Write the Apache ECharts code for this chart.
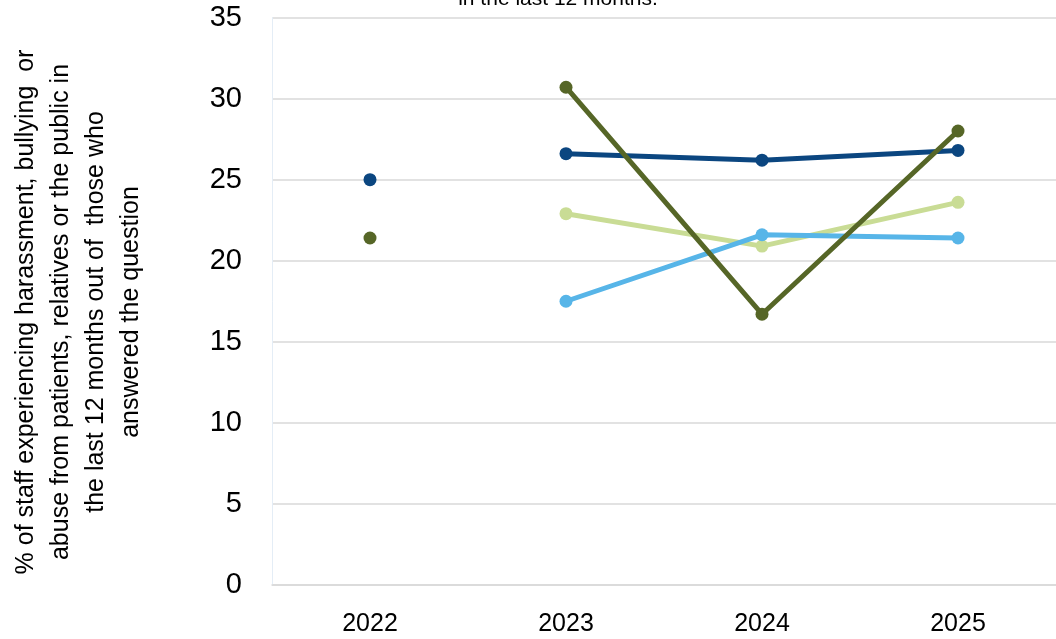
<!DOCTYPE html>
<html>
<head>
<meta charset="utf-8">
<script src="https://cdn.jsdelivr.net/npm/echarts@6/dist/echarts.min.js"></script>
<style>
  html, body { margin: 0; padding: 0; background: #ffffff; }
  #chart { width: 1056px; height: 639px; }
</style>
</head>
<body>
<div id="chart"></div>
<script>
// Survey years on the category axis
const years = ['2022', '2023', '2024', '2025'];

// % of staff reporting harassment, bullying or abuse from patients, relatives or the public
const darkBlue   = [25.0, 26.6, 26.2, 26.8];
const olive      = [21.4, 30.7, 16.7, 28.0];
const lightGreen = [null, 22.9, 20.9, 23.6];
const lightBlue  = [null, 17.5, 21.6, 21.4];

// Value-axis ticks
const yTicks = [0, 5, 10, 15, 20, 25, 30, 35];

const FONT = '"Liberation Sans", Arial, sans-serif';

// 2022 stands alone (break in the series), so it is drawn as a point only
const linePart  = arr => arr.map((v, i) => (i === 0 || v == null) ? '-' : v);
const firstPart = arr => arr.map((v, i) => (i === 0 && v != null) ? v : '-');

function lineSeries(name, data, color) {
  return {
    name: name,
    type: 'line',
    data: linePart(data),
    symbol: 'circle',
    symbolSize: 13,
    lineStyle: { color: color, width: 5 },
    itemStyle: { color: color },
    connectNulls: false,
    animation: false
  };
}
function pointSeries(name, data, color) {
  return {
    name: name,
    type: 'line',
    data: firstPart(data),
    symbol: 'circle',
    symbolSize: 13,
    showSymbol: true,
    lineStyle: { width: 0 },
    itemStyle: { color: color },
    animation: false
  };
}

const chart = echarts.init(document.getElementById('chart'), null, { renderer: 'canvas' });

chart.setOption({
  backgroundColor: '#ffffff',
  grid: { left: 272, top: 17.5, width: 793, bottom: 54, containLabel: false },
  xAxis: {
    type: 'category',
    data: years,
    boundaryGap: true,
    axisLine: { show: true, lineStyle: { color: '#d9d9d9', width: 1.5 } },
    axisTick: { show: false },
    axisLabel: { color: '#000000', fontSize: 25, fontFamily: FONT, margin: 27 },
    splitLine: { show: false }
  },
  yAxis: {
    type: 'value',
    min: yTicks[0],
    max: yTicks[yTicks.length - 1],
    interval: yTicks[1] - yTicks[0],
    axisLine: { show: true, lineStyle: { color: '#e4edf6', width: 1 } },
    axisTick: { show: false },
    axisLabel: { color: '#000000', fontSize: 29, fontFamily: FONT, margin: 30 },
    splitLine: { show: true, lineStyle: { color: '#d9d9d9', width: 1.5 } }
  },
  graphic: [
    {
      type: 'text',
      x: 79,
      y: 312,
      rotation: Math.PI / 2,
      style: {
        text: '% of staff experiencing harassment, bullying  or\nabuse from patients, relatives or the public in\nthe last 12 months out of  those who\nanswered the question',
        fontSize: 25,
        fontFamily: FONT,
        fill: '#000000',
        align: 'center',
        verticalAlign: 'middle',
        lineHeight: 35
      }
    },
    {
      type: 'text',
      x: 558,
      y: -1,
      style: {
        text: 'in the last 12 months.',
        fontSize: 21,
        fontFamily: FONT,
        fill: '#000000',
        align: 'center',
        verticalAlign: 'middle'
      }
    }
  ],
  series: [
    lineSeries('Light green', lightGreen, '#c9dc95'),
    lineSeries('Light blue', lightBlue, '#57b5e8'),
    pointSeries('Dark blue 2022', darkBlue, '#0b4680'),
    lineSeries('Dark blue', darkBlue, '#0b4680'),
    pointSeries('Olive 2022', olive, '#566627'),
    lineSeries('Olive', olive, '#566627')
  ]
});
</script>
</body>
</html>
